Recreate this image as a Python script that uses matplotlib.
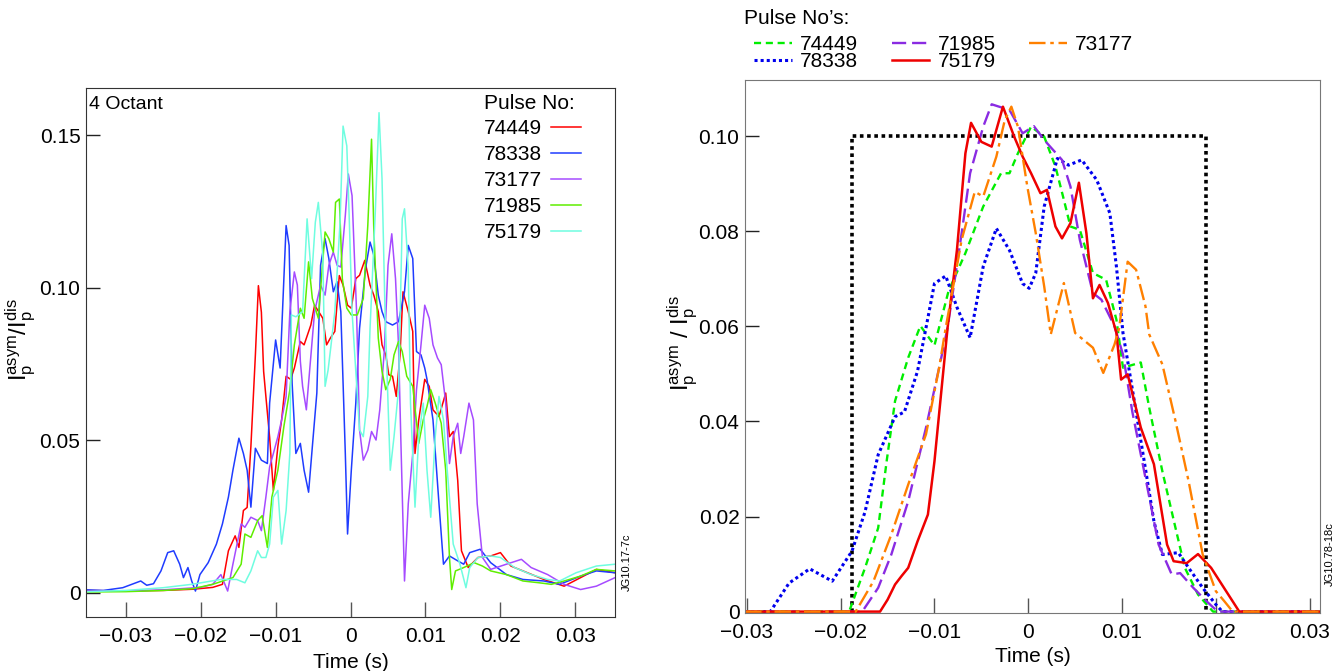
import numpy as np
import matplotlib
matplotlib.use("Agg")
import matplotlib.pyplot as plt

plt.rcParams['font.family'] = ['Liberation Sans', 'DejaVu Sans']
plt.rcParams['mathtext.fontset'] = 'custom'
plt.rcParams['mathtext.rm'] = 'Liberation Sans'
plt.rcParams['mathtext.it'] = 'Liberation Sans'

# ---------------- left panel data (4 octant), time in s ----------------
t_74449 = [-0.0353, -0.03, -0.025, -0.021, -0.0184, -0.0171, -0.0163, -0.0154, -0.0149, -0.0143, -0.0138,
           -0.0133, -0.0127, -0.0123, -0.0119, -0.0116, -0.0113, -0.0108, -0.0103, -0.0097, -0.0092, -0.0086,
           -0.0080, -0.0075, -0.0067, -0.0062, -0.0053, -0.0048, -0.0037, -0.0032, -0.0027, -0.0021, -0.0015,
           -0.0010, -0.0004, 0.0001, 0.0007, 0.0012, 0.0019, 0.0026, 0.0031, 0.0037, 0.0042, 0.0047, 0.0051,
           0.0056, 0.0061, 0.0066, 0.0070, 0.0077, 0.0083, 0.0086, 0.0091, 0.0099, 0.0105, 0.0110, 0.0118,
           0.0127, 0.0132, 0.0137, 0.0143, 0.0148, 0.0157, 0.0170, 0.0187, 0.0200, 0.0214, 0.0236, 0.0258,
           0.0285, 0.0307, 0.0328, 0.0353]
v_74449 = [0.0008, 0.0006, 0.0008, 0.0012, 0.0018, 0.0028, 0.0138, 0.0187, 0.0149, 0.0270, 0.0280,
           0.0480, 0.0780, 0.1007, 0.0920, 0.0726, 0.0644, 0.0510, 0.0336, 0.0480, 0.0567, 0.0710,
           0.0700, 0.0737, 0.0824, 0.0813, 0.0878, 0.0943, 0.0900, 0.0813, 0.0835, 0.0857, 0.1040,
           0.1009, 0.0943, 0.0933, 0.1030, 0.1041, 0.1090, 0.1009, 0.0976, 0.0922, 0.0813, 0.0780, 0.0715,
           0.0710, 0.0644, 0.0780, 0.0987, 0.0922, 0.0857, 0.0457, 0.0567, 0.0700, 0.0677, 0.0600, 0.0578,
           0.0655, 0.0512, 0.0529, 0.0369, 0.0138, 0.0083, 0.0116, 0.0121, 0.0132, 0.0088, 0.0066, 0.0044,
           0.0022, 0.0050, 0.0077, 0.0066]

t_78338 = [-0.0353, -0.0330, -0.0304, -0.0280, -0.0272, -0.0263, -0.0253, -0.0244, -0.0236, -0.0228, -0.0223,
           -0.0217, -0.0212, -0.0207, -0.0201, -0.0190, -0.0179, -0.0171, -0.0163, -0.0157, -0.0149, -0.0143,
           -0.0138, -0.0133, -0.0127, -0.0119, -0.0111, -0.0108, -0.0100, -0.0094, -0.0086, -0.0082, -0.0078,
           -0.0073, -0.0067, -0.0062, -0.0056, -0.0051, -0.0045, -0.0040, -0.0034, -0.0029, -0.0023, -0.0018,
           -0.0013, -0.0007, -0.0004, 0.0001, 0.0007, 0.0012, 0.0020, 0.0026, 0.0031, 0.0037, 0.0042, 0.0047,
           0.0056, 0.0064, 0.0072, 0.0077, 0.0083, 0.0088, 0.0094, 0.0099, 0.0102, 0.0110, 0.0118, 0.0124,
           0.0132, 0.0143, 0.0151, 0.0159, 0.0173, 0.0187, 0.0208, 0.0230, 0.0258, 0.0279, 0.0307, 0.0328,
           0.0353]
v_78338 = [0.0010, 0.0008, 0.0017, 0.0039, 0.0025, 0.0030, 0.0072, 0.0132, 0.0138, 0.0094, 0.0050,
           0.0083, 0.0039, 0.0006, 0.0060, 0.0099, 0.0160, 0.0226, 0.0314, 0.0402, 0.0507, 0.0457,
           0.0402, 0.0281, 0.0474, 0.0435, 0.0424, 0.0622, 0.0829, 0.0737, 0.1204, 0.1139, 0.0688,
           0.0457, 0.0490, 0.0402, 0.0330, 0.0479, 0.0655, 0.1074, 0.1161, 0.1096, 0.0987, 0.1020,
           0.0922, 0.0457, 0.0193, 0.0402, 0.0622, 0.0867, 0.1063, 0.1150, 0.1107, 0.0976, 0.0922, 0.0889,
           0.0878, 0.0889, 0.0987, 0.1139, 0.1096, 0.0791, 0.0780, 0.0737, 0.0700, 0.0567, 0.0292, 0.0094,
           0.0121, 0.0105, 0.0094, 0.0132, 0.0143, 0.0099, 0.0060, 0.0044, 0.0039, 0.0028, 0.0055, 0.0072,
           0.0066]

t_73177 = [-0.0353, -0.0300, -0.0250, -0.0200, -0.0184, -0.0173, -0.0164, -0.0157, -0.0146, -0.0141, -0.0133,
           -0.0124, -0.0119, -0.0113, -0.0108, -0.0103, -0.0097, -0.0092, -0.0086, -0.0081, -0.0075, -0.0071,
           -0.0067, -0.0064, -0.0059, -0.0048, -0.0040, -0.0034, -0.0029, -0.0023, -0.0018, -0.0013, -0.0007,
           -0.0003, 0.0002, 0.0008, 0.0012, 0.0017, 0.0023, 0.0028, 0.0034, 0.0039, 0.0045, 0.0050, 0.0055,
           0.0060, 0.0064, 0.0067, 0.0072, 0.0077, 0.0083, 0.0088, 0.0094, 0.0099, 0.0105, 0.0110, 0.0116,
           0.0121, 0.0127, 0.0132, 0.0137, 0.0143, 0.0147, 0.0151, 0.0158, 0.0164, 0.0169, 0.0176, 0.0187,
           0.0208, 0.0228, 0.0241, 0.0263, 0.0285, 0.0307, 0.0328, 0.0353]
v_73177 = [0.0006, 0.0006, 0.0010, 0.0018, 0.0028, 0.0060, 0.0006, 0.0094, 0.0226, 0.0215, 0.0248,
           0.0237, 0.0204, 0.0314, 0.0413, 0.0457, 0.0512, 0.0567, 0.0644, 0.0922, 0.1052, 0.1009,
           0.0759, 0.0677, 0.0600, 0.0922, 0.1009, 0.0976, 0.1074, 0.1117, 0.1074, 0.1068, 0.1237,
           0.1373, 0.1302, 0.0922, 0.0534, 0.0435, 0.0468, 0.0529, 0.0501, 0.0600, 0.0791, 0.1074, 0.1177,
           0.1030, 0.0813, 0.0512, 0.0039, 0.0292, 0.0457, 0.0666, 0.0813, 0.0943, 0.0900, 0.0813, 0.0770,
           0.0748, 0.0622, 0.0424, 0.0512, 0.0556, 0.0457, 0.0512, 0.0622, 0.0567, 0.0292, 0.0116, 0.0077,
           0.0094, 0.0110, 0.0083, 0.0060, 0.0028, 0.0011, 0.0022, 0.0050]

t_71985 = [-0.0353, -0.0300, -0.0250, -0.0210, -0.0184, -0.0157, -0.0146, -0.0141, -0.0133, -0.0124, -0.0118,
           -0.0111, -0.0105, -0.0097, -0.0089, -0.0081, -0.0075, -0.0067, -0.0062, -0.0056, -0.0051, -0.0043,
           -0.0034, -0.0029, -0.0023, -0.0020, -0.0015, -0.0011, -0.0005, 0.0001, 0.0009, 0.0017, 0.0023,
           0.0028, 0.0031, 0.0037, 0.0042, 0.0047, 0.0053, 0.0058, 0.0064, 0.0069, 0.0075, 0.0083, 0.0091,
           0.0097, 0.0102, 0.0107, 0.0113, 0.0121, 0.0127, 0.0132, 0.0135, 0.0140, 0.0151, 0.0165, 0.0176,
           0.0187, 0.0208, 0.0230, 0.0252, 0.0268, 0.0285, 0.0307, 0.0328, 0.0353]
v_71985 = [0.0003, 0.0004, 0.0008, 0.0014, 0.0028, 0.0050, 0.0094, 0.0193, 0.0182, 0.0237, 0.0253,
           0.0149, 0.0314, 0.0402, 0.0545, 0.0666, 0.0813, 0.0933, 0.0900, 0.1085, 0.0965, 0.0900,
           0.1183, 0.1161, 0.1117, 0.1280, 0.1291, 0.1030, 0.0933, 0.0911, 0.0911, 0.0965, 0.1204,
           0.1487, 0.1193, 0.0835, 0.0726, 0.0666, 0.0700, 0.0780, 0.0824, 0.0791, 0.0710, 0.0677, 0.0490,
           0.0567, 0.0611, 0.0666, 0.0622, 0.0556, 0.0402, 0.0116, 0.0011, 0.0072, 0.0083, 0.0099, 0.0088,
           0.0072, 0.0060, 0.0039, 0.0033, 0.0028, 0.0039, 0.0055, 0.0077, 0.0072]

t_75179 = [-0.0353, -0.0300, -0.0250, -0.0212, -0.0173, -0.0152, -0.0141, -0.0133, -0.0124, -0.0119, -0.0113,
           -0.0108, -0.0103, -0.0097, -0.0092, -0.0086, -0.0081, -0.0079, -0.0073, -0.0064, -0.0058, -0.0052,
           -0.0047, -0.0043, -0.0037, -0.0034, -0.0030, -0.0026, -0.0021, -0.0014, -0.0010, -0.0005, -0.0002,
           0.0002, 0.0007, 0.0012, 0.0017, 0.0023, 0.0026, 0.0033, 0.0038, 0.0042, 0.0046, 0.0050, 0.0053,
           0.0058, 0.0064, 0.0069, 0.0072, 0.0077, 0.0080, 0.0086, 0.0091, 0.0097, 0.0102, 0.0107, 0.0113,
           0.0118, 0.0124, 0.0129, 0.0137, 0.0146, 0.0154, 0.0159, 0.0170, 0.0187, 0.0200, 0.0219, 0.0241,
           0.0263, 0.0279, 0.0301, 0.0328, 0.0353]
v_75179 = [0.0004, 0.0008, 0.0017, 0.0028, 0.0044, 0.0044, 0.0033, 0.0072, 0.0138, 0.0116, 0.0116,
           0.0160, 0.0314, 0.0336, 0.0160, 0.0270, 0.0457, 0.0911, 0.0905, 0.0922, 0.1226, 0.1030,
           0.1215, 0.1280, 0.1107, 0.0677, 0.0730, 0.0813, 0.0922, 0.1215, 0.1530, 0.1465, 0.1248,
           0.0922, 0.0726, 0.0534, 0.0512, 0.0644, 0.0867, 0.1248, 0.1574, 0.1357, 0.0922, 0.0622, 0.0402,
           0.0512, 0.0666, 0.1226, 0.1259, 0.1063, 0.0622, 0.0281, 0.0512, 0.0622, 0.0402, 0.0248, 0.0512,
           0.0644, 0.0567, 0.0402, 0.0160, 0.0094, 0.0017, 0.0083, 0.0116, 0.0121, 0.0116, 0.0083, 0.0060,
           0.0044, 0.0039, 0.0066, 0.0088, 0.0094]

# ---------------- right panel data (averaged) ----------------
r_t_78338 = [-0.0302, -0.0275, -0.0255, -0.0233, -0.0209, -0.0188, -0.0174, -0.0160, -0.0142, -0.0132, -0.0118,
             -0.0109, -0.0100, -0.0088, -0.0076, -0.0062, -0.0048, -0.0034, -0.0020, -0.0006, 0.0001, 0.0008,
             0.0017, 0.0031, 0.0043, 0.0057, 0.0073, 0.0087, 0.0094, 0.0101, 0.0106, 0.0115, 0.0125, 0.0134,
             0.0143, 0.0160, 0.0171, 0.0186, 0.0200, 0.0207, 0.0311]
r_v_78338 = [0.0, 0.0, 0.0060, 0.0090, 0.0064, 0.0127, 0.0210, 0.0330, 0.0410, 0.0420, 0.0506,
             0.0597, 0.0690, 0.0706, 0.0640, 0.0576, 0.0726, 0.0806, 0.0760, 0.0690, 0.0680, 0.0712,
             0.0852, 0.0953, 0.0939, 0.0950, 0.0908, 0.0838, 0.0726, 0.0586, 0.0527, 0.0420, 0.0300, 0.0190,
             0.0120, 0.0124, 0.0092, 0.0050, 0.0015, 0.0, 0.0]

r_t_74449 = [-0.0302, -0.0191, -0.0174, -0.0160, -0.0151, -0.0142, -0.0128, -0.0115, -0.0100, -0.0085, -0.0067,
             -0.0048, -0.0029, -0.0020, -0.0011, 0.0003, 0.0017, 0.0029, 0.0038, 0.0045, 0.0055, 0.0069,
             0.0083, 0.0094, 0.0101, 0.0120, 0.0129, 0.0143, 0.0157, 0.0167, 0.0181, 0.0197, 0.0311]
r_v_74449 = [0.0, 0.0, 0.0092, 0.0176, 0.0316, 0.0443, 0.0534, 0.0601, 0.0560, 0.0674, 0.0754,
             0.0852, 0.0922, 0.0922, 0.0964, 0.1020, 0.0999, 0.0936, 0.0866, 0.0810, 0.0803, 0.0712,
             0.0698, 0.0614, 0.0513, 0.0524, 0.0429, 0.0295, 0.0176, 0.0092, 0.0036, 0.0, 0.0]

r_t_71985 = [-0.0302, -0.0177, -0.0160, -0.0146, -0.0128, -0.0109, -0.0095, -0.0086, -0.0071, -0.0062, -0.0048,
             -0.0039, -0.0020, -0.0006, 0.0006, 0.0017, 0.0036, 0.0045, 0.0055, 0.0062, 0.0069, 0.0078,
             0.0092, 0.0101, 0.0111, 0.0125, 0.0139, 0.0153, 0.0162, 0.0176, 0.0190, 0.0202, 0.0311]
r_v_71985 = [0.0, 0.0, 0.0050, 0.0120, 0.0232, 0.0387, 0.0513, 0.0597, 0.0796, 0.0922, 0.1020,
             0.1067, 0.1055, 0.1006, 0.1021, 0.0992, 0.0950, 0.0894, 0.0782, 0.0726, 0.0670, 0.0656,
             0.0600, 0.0541, 0.0420, 0.0281, 0.0141, 0.0078, 0.0081, 0.0050, 0.0022, 0.0, 0.0]

r_t_75179 = [-0.0302, -0.0158, -0.0150, -0.0142, -0.0135, -0.0128, -0.0118, -0.0107, -0.0100, -0.0093, -0.0086,
             -0.0076, -0.0067, -0.0061, -0.0050, -0.0039, -0.0027, -0.0015, -0.0006, 0.0003, 0.0013, 0.0020,
             0.0029, 0.0036, 0.0045, 0.0054, 0.0062, 0.0069, 0.0076, 0.0085, 0.0094, 0.0099, 0.0106, 0.0120,
             0.0134, 0.0148, 0.0155, 0.0169, 0.0181, 0.0195, 0.0225, 0.0311]
r_v_75179 = [0.0, 0.0, 0.0025, 0.0057, 0.0075, 0.0092, 0.0148, 0.0204, 0.0316, 0.0457, 0.0597,
             0.0761, 0.0964, 0.1028, 0.0988, 0.0978, 0.1062, 0.0999, 0.0957, 0.0922, 0.0880, 0.0887,
             0.0810, 0.0785, 0.0817, 0.0902, 0.0796, 0.0659, 0.0687, 0.0649, 0.0586, 0.0488, 0.0499,
             0.0387, 0.0310, 0.0141, 0.0106, 0.0102, 0.0121, 0.0092, 0.0, 0.0]

r_t_73177 = [-0.0302, -0.0184, -0.0165, -0.0146, -0.0128, -0.0109, -0.0095, -0.0088, -0.0071, -0.0057, -0.0048,
             -0.0034, -0.0025, -0.0018, -0.0011, -0.0001, 0.0008, 0.0017, 0.0024, 0.0038, 0.0050, 0.0069,
             0.0080, 0.0092, 0.0097, 0.0106, 0.0115, 0.0125, 0.0129, 0.0143, 0.0157, 0.0171, 0.0186, 0.0200,
             0.0209, 0.0218, 0.0311]
r_v_73177 = [0.0, 0.0, 0.0064, 0.0162, 0.0267, 0.0373, 0.0513, 0.0597, 0.0782, 0.0883, 0.0873,
             0.0957, 0.1034, 0.1062, 0.1020, 0.0894, 0.0796, 0.0684, 0.0583, 0.0691, 0.0586, 0.0555,
             0.0502, 0.0562, 0.0597, 0.0736, 0.0719, 0.0642, 0.0583, 0.0520, 0.0401, 0.0274, 0.0120, 0.0043,
             0.0022, 0.0, 0.0]

window_t = [-0.0188, -0.0188, 0.0190, 0.0190]
window_v = [0.0, 0.100, 0.100, 0.0]

x_ticks = [-0.03, -0.02, -0.01, 0, 0.01, 0.02, 0.03]
x_ticklabels = ['\u22120.03', '\u22120.02', '\u22120.01', '0', '0.01', '0.02', '0.03']

fig = plt.figure(figsize=(13.38, 6.71), dpi=100)

# ---------------- left ----------------
ax1 = fig.add_axes([0.0643, 0.0805, 0.3954, 0.7884])
ax1.plot(t_74449, v_74449, color='#ff0000', lw=1.1, label='74449')
ax1.plot(t_78338, v_78338, color='#1f3cff', lw=1.1, label='78338')
ax1.plot(t_73177, v_73177, color='#a64bff', lw=1.1, label='73177')
ax1.plot(t_71985, v_71985, color='#5fee00', lw=1.1, label='71985')
ax1.plot(t_75179, v_75179, color='#6ffde0', lw=1.1, label='75179')
ax1.set_xlim(-0.0353, 0.0353)
ax1.set_ylim(-0.0079, 0.1655)
ax1.set_xticks(x_ticks)
ax1.set_xticklabels(x_ticklabels, fontsize=15)
ax1.set_yticks([0, 0.05, 0.10, 0.15])
ax1.set_yticklabels(['0', '0.05', '0.10', '0.15'], fontsize=15)
ax1.tick_params(axis='x', direction='in', length=11, width=1, color='#555555', pad=7)
ax1.tick_params(axis='y', direction='in', length=10, width=1, color='#222222', pad=4)
for s in ax1.spines.values():
    s.set_color('#333333')
ax1.set_xlabel('Time (s)', fontsize=15, labelpad=5)
ax1.set_ylabel(r'$\mathregular{I_p^{asym}/I_p^{dis}}$', fontsize=17)
ax1.yaxis.set_label_coords(-0.09, 0.524)
ax1.text(0.005, 0.985, '4 Octant', transform=ax1.transAxes, fontsize=14, va='top', ha='left')
ax1.legend(loc='upper right', bbox_to_anchor=(0.96, 1.013), title='Pulse No:', frameon=False,
           markerfirst=False, fontsize=15, title_fontsize=15, handlelength=1.45,
           labelspacing=0.33, handletextpad=0.45, borderaxespad=0.2, alignment='left')
ax1.text(1.012, 0.05, 'JG10.17-7c', transform=ax1.transAxes, fontsize=8, rotation=90, ha='left', va='bottom')

# ---------------- right ----------------
ax2 = fig.add_axes([0.5568, 0.0864, 0.4297, 0.7943])
ax2.plot(window_t, window_v, color='black', lw=2.6, ls=(0, (1, 1)))
l1, = ax2.plot(r_t_74449, r_v_74449, color='#00ee00', lw=1.7, ls=(0, (3, 2)), label='74449')
l2, = ax2.plot(r_t_78338, r_v_78338, color='#0000ee', lw=2.2, ls=(0, (1, 1)), label='78338')
l3, = ax2.plot(r_t_71985, r_v_71985, color='#8a2be2', lw=1.7, ls=(0, (6, 2.5)), label='71985')
l4, = ax2.plot(r_t_75179, r_v_75179, color='#ee0000', lw=1.8, label='75179')
l5, = ax2.plot(r_t_73177, r_v_73177, color='#ff8000', lw=1.7, ls=(0, (7, 2, 1.5, 2)), label='73177')
ax2.set_xlim(-0.0302, 0.0311)
ax2.set_ylim(-0.0003, 0.1118)
ax2.set_xticks(x_ticks)
ax2.set_xticklabels(x_ticklabels, fontsize=15)
ax2.set_yticks([0, 0.02, 0.04, 0.06, 0.08, 0.10])
ax2.set_yticklabels(['0', '0.02', '0.04', '0.06', '0.08', '0.10'], fontsize=15)
ax2.tick_params(axis='x', direction='in', length=11, width=1, color='#555555', pad=7)
ax2.tick_params(axis='y', direction='in', length=10, width=1, color='#222222', pad=4)
for s in ax2.spines.values():
    s.set_color('#777777')
ax2.set_xlabel('Time (s)', fontsize=15, labelpad=4)
ax2.set_ylabel(r'$\mathregular{I_p^{asym}}$ / $\mathregular{I_p^{dis}}$', fontsize=17)
ax2.yaxis.set_label_coords(-0.078, 0.507)
fig.text(0.556, 0.973, "Pulse No\u2019s:", fontsize=15, ha='left', va='center')
fig.legend(handles=[l1, l2, l3, l4, l5], loc='upper left', bbox_to_anchor=(0.553, 0.969),
           ncol=3, frameon=False, fontsize=15,
           handlelength=1.8, labelspacing=-0.1, columnspacing=1.6, handletextpad=0.4,
           borderaxespad=0.3)
ax2.text(1.008, 0.05, 'JG10.78-18c', transform=ax2.transAxes, fontsize=8, rotation=90, ha='left', va='bottom')

fig.savefig('out.png', dpi=100)
